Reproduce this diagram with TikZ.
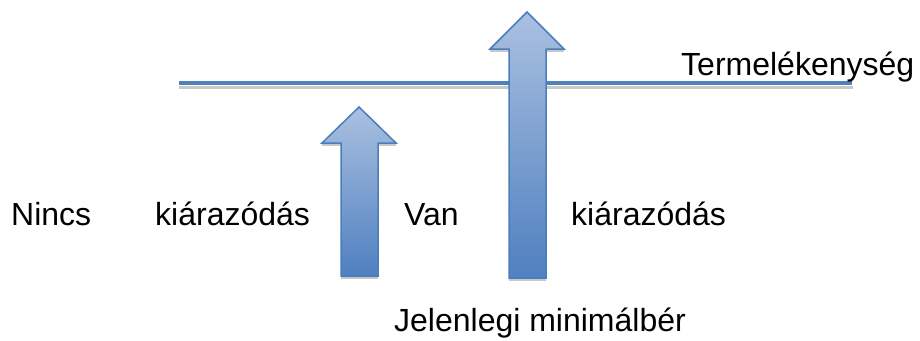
\documentclass[tikz,border=0pt]{standalone}
\usepackage{fontspec}
\setmainfont{Liberation Sans}
\definecolor{lineblue}{HTML}{4F81BD}
\definecolor{arrowedge}{HTML}{4A7EBB}
\definecolor{arrowtop}{HTML}{AAC0E0}
\definecolor{arrowbot}{HTML}{4F80C0}
\definecolor{shadowgrey}{HTML}{C8C8C8}
\tikzset{
  lbl/.style={anchor=base west, inner sep=0pt, font=\fontsize{32}{38}\selectfont},
  bigarrow/.style={draw=arrowedge, line width=1.5pt, line join=miter, top color=arrowtop, bottom color=arrowbot},
  shadowstrip/.style={fill=shadowgrey, draw=none}
}
\begin{document}
\begin{tikzpicture}[x=1pt,y=-1pt]
\useasboundingbox (0,0) rectangle (920,340);
% productivity line with shadow
\coordinate (lineL) at (179,83);
\coordinate (lineR) at (852,83);
\fill[shadowstrip] (179,85.5) rectangle (853,89);
\draw[lineblue, line width=4pt] (lineL) -- (lineR);
% small arrow
\fill[shadowstrip] (322,143.5) rectangle (341,146);
\fill[shadowstrip] (378,143.5) rectangle (396,146);
\fill[shadowstrip] (341,276.5) rectangle (378,279);
\path[bigarrow] (359,107) -- (396,143) -- (378,143) -- (378,276) -- (341,276) -- (341,143) -- (322,143) -- cycle;
% big arrow
\fill[shadowstrip] (490,49.5) rectangle (509,52);
\fill[shadowstrip] (546,49.5) rectangle (564,52);
\fill[shadowstrip] (509,278.5) rectangle (546,281);
\path[bigarrow] (527,12) -- (564,49) -- (546,49) -- (546,278) -- (509,278) -- (509,49) -- (490,49) -- cycle;
% labels
\node[lbl] (termel) at (681,75) {Termelékenység};
\node[lbl] (nincs) at (11,225) {Nincs};
\node[lbl] (kiar1) at (155,225) {kiárazódás};
\node[lbl] (van) at (404,225) {Van};
\node[lbl] (kiar2) at (571,225) {kiárazódás};
\node[lbl] (jelen) at (394,331) {Jelenlegi minimálbér};
\end{tikzpicture}
\end{document}
